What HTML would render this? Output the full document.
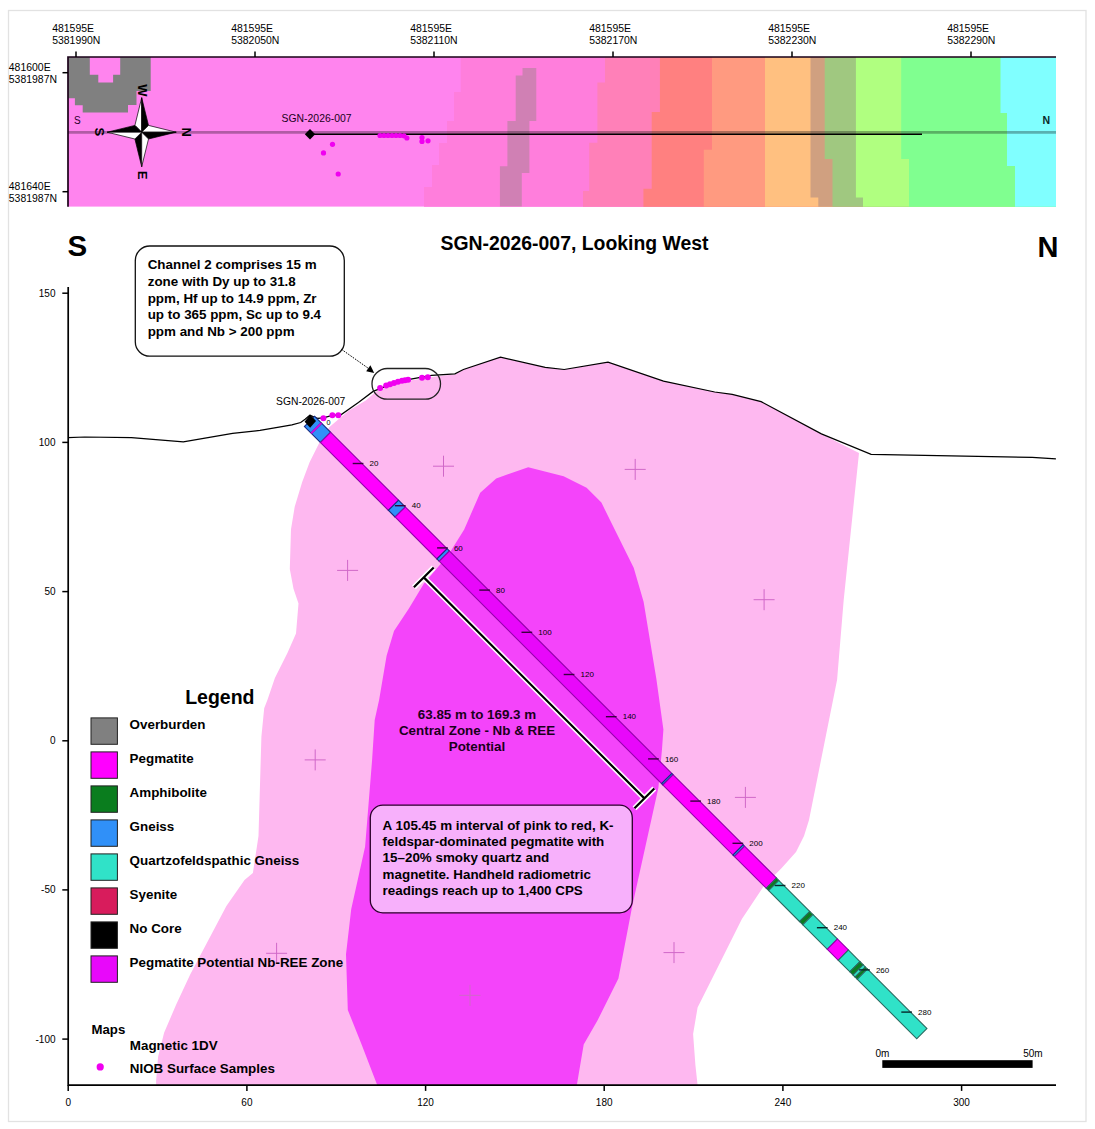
<!DOCTYPE html><html><head><meta charset="utf-8"><style>
html,body{margin:0;padding:0;background:#fff;}
svg{display:block;font-family:"Liberation Sans",sans-serif;}
</style></head><body>
<svg width="1095" height="1129" viewBox="0 0 1095 1129">
<rect x="0" y="0" width="1095" height="1129" fill="#fff"/>
<rect x="8.5" y="10.5" width="1077.5" height="1111" fill="none" stroke="#e2e2e2" stroke-width="1.3"/>

<defs><clipPath id="mapclip"><rect x="68" y="57" width="988" height="149.8"/></clipPath></defs>
<g clip-path="url(#mapclip)">
<rect x="68" y="57" width="988" height="149.8" fill="#ff84ee"/>
<polygon fill="#ff7edc" points="1061.0,52.0 460.8,52.0 460.8,57.0 460.8,92.0 454.0,92.0 454.0,121.0 447.0,121.0 447.0,143.0 439.0,143.0 439.0,165.0 432.0,165.0 432.0,187.0 424.0,187.0 424.0,206.8 424.0,211.8 1061.0,211.8"/>
<polygon fill="#ff80b8" points="1061.0,52.0 605.0,52.0 605.0,57.0 605.0,82.4 597.4,82.4 597.4,142.8 589.2,142.8 589.2,190.9 583.0,190.9 583.0,206.8 583.0,211.8 1061.0,211.8"/>
<polygon fill="#ff8080" points="1061.0,52.0 659.9,52.0 659.9,57.0 659.9,112.0 651.7,112.0 651.7,188.8 643.4,188.8 643.4,206.8 643.4,211.8 1061.0,211.8"/>
<polygon fill="#ff9a80" points="1061.0,52.0 712.0,52.0 712.0,57.0 712.0,149.7 703.8,149.7 703.8,206.8 703.8,211.8 1061.0,211.8"/>
<polygon fill="#ffc080" points="1061.0,52.0 765.0,52.0 765.0,57.0 765.0,206.8 765.0,211.8 1061.0,211.8"/>
<polygon fill="#d0a080" points="1061.0,52.0 810.5,52.0 810.5,57.0 810.5,197.4 818.3,197.4 818.3,206.8 818.3,211.8 1061.0,211.8"/>
<polygon fill="#a0c880" points="1061.0,52.0 824.7,52.0 824.7,57.0 824.7,159.1 832.5,159.1 832.5,206.8 832.5,211.8 1061.0,211.8"/>
<polygon fill="#b0ff80" points="1061.0,52.0 855.9,52.0 855.9,57.0 855.9,197.4 863.0,197.4 863.0,206.8 863.0,211.8 1061.0,211.8"/>
<polygon fill="#80ff90" points="1061.0,52.0 901.2,52.0 901.2,57.0 901.2,159.1 909.0,159.1 909.0,206.8 909.0,211.8 1061.0,211.8"/>
<polygon fill="#80ffff" points="1061.0,52.0 1000.5,52.0 1000.5,57.0 1000.5,113.0 1007.0,113.0 1007.0,166.0 1015.0,166.0 1015.0,206.8 1015.0,211.8 1061.0,211.8"/>
<polygon fill="#d080b4" points="522.5,68 536.3,68 536.3,121 529.4,121 529.4,173 521.8,173 521.8,206.5 499.9,206.5 499.9,166.2 507.4,166.2 507.4,121 515.7,121 515.7,75.6 522.5,75.6"/>
<polygon fill="#808080" points="68,57 150.7,57 150.7,91 136.5,91 136.5,105 128,105 128,112.5 82.7,112.5 82.7,105.3 74.9,105.3 74.9,98.2 68,98.2"/>
<polygon fill="#ff84ee" points="89.8,57 120.2,57 120.2,74.8 113.1,74.8 113.1,82.6 98.3,82.6 98.3,74.8 89.8,74.8"/>
</g>
<line x1="68" y1="132.4" x2="1056" y2="132.4" stroke="#000" stroke-width="2.6" opacity="0.3"/>
<line x1="310" y1="134.3" x2="922" y2="134.3" stroke="#000" stroke-width="1.4"/>
<polyline fill="none" stroke="#1a0018" stroke-width="1.7" points="68,206.8 68,57 1056,57"/>
<line x1="76" y1="51.5" x2="76" y2="57" stroke="#000" stroke-width="1.5"/>
<text x="52.2" y="32.3" font-size="10.45" fill="#000">481595E</text>
<text x="52.2" y="44.3" font-size="10.45" fill="#000">5381990N</text>
<line x1="255" y1="51.5" x2="255" y2="57" stroke="#000" stroke-width="1.5"/>
<text x="231.2" y="32.3" font-size="10.45" fill="#000">481595E</text>
<text x="231.2" y="44.3" font-size="10.45" fill="#000">5382050N</text>
<line x1="434" y1="51.5" x2="434" y2="57" stroke="#000" stroke-width="1.5"/>
<text x="410.2" y="32.3" font-size="10.45" fill="#000">481595E</text>
<text x="410.2" y="44.3" font-size="10.45" fill="#000">5382110N</text>
<line x1="613" y1="51.5" x2="613" y2="57" stroke="#000" stroke-width="1.5"/>
<text x="589.2" y="32.3" font-size="10.45" fill="#000">481595E</text>
<text x="589.2" y="44.3" font-size="10.45" fill="#000">5382170N</text>
<line x1="792" y1="51.5" x2="792" y2="57" stroke="#000" stroke-width="1.5"/>
<text x="768.2" y="32.3" font-size="10.45" fill="#000">481595E</text>
<text x="768.2" y="44.3" font-size="10.45" fill="#000">5382230N</text>
<line x1="971" y1="51.5" x2="971" y2="57" stroke="#000" stroke-width="1.5"/>
<text x="947.2" y="32.3" font-size="10.45" fill="#000">481595E</text>
<text x="947.2" y="44.3" font-size="10.45" fill="#000">5382290N</text>
<line x1="62.5" y1="72.7" x2="68" y2="72.7" stroke="#000" stroke-width="1.5"/>
<text x="8.8" y="71.0" font-size="10.45" fill="#000">481600E</text>
<text x="8.8" y="83.0" font-size="10.45" fill="#000">5381987N</text>
<line x1="62.5" y1="191.7" x2="68" y2="191.7" stroke="#000" stroke-width="1.5"/>
<text x="8.8" y="190.0" font-size="10.45" fill="#000">481640E</text>
<text x="8.8" y="202.0" font-size="10.45" fill="#000">5381987N</text>
<text x="74" y="123.5" font-size="10" fill="#2a002a">S</text>
<text x="1042.6" y="124.3" font-size="10.5" font-weight="bold" fill="#0a2a2a">N</text>
<g stroke="#000" stroke-width="0.7" stroke-linejoin="miter">
<polygon fill="#fff" points="141.7,132.2 141.7,97.7 134.9,125.4"/>
<polygon fill="#000" points="141.7,132.2 141.7,97.7 148.5,125.4"/>
<polygon fill="#fff" points="141.7,132.2 176.2,132.2 148.5,125.4"/>
<polygon fill="#000" points="141.7,132.2 176.2,132.2 148.5,139.0"/>
<polygon fill="#000" points="141.7,132.2 141.7,166.7 134.9,139.0"/>
<polygon fill="#fff" points="141.7,132.2 141.7,166.7 148.5,139.0"/>
<polygon fill="#000" points="141.7,132.2 107.2,132.2 134.9,125.4"/>
<polygon fill="#fff" points="141.7,132.2 107.2,132.2 134.9,139.0"/>
</g>
<text transform="translate(142.5,90.3) rotate(90)" x="0" y="0" text-anchor="middle" dominant-baseline="central" font-size="13" font-weight="bold" fill="#000">W</text>
<text transform="translate(99.3,131.8) rotate(90)" x="0" y="0" text-anchor="middle" dominant-baseline="central" font-size="13" font-weight="bold" fill="#000">S</text>
<text transform="translate(186,132.2) rotate(90)" x="0" y="0" text-anchor="middle" dominant-baseline="central" font-size="13" font-weight="bold" fill="#000">N</text>
<text transform="translate(142.9,175.2) rotate(90)" x="0" y="0" text-anchor="middle" dominant-baseline="central" font-size="13" font-weight="bold" fill="#000">E</text>
<polygon fill="#000" points="310,129 315.2,134.2 310,139.4 304.8,134.2"/>
<text x="281.6" y="122.2" font-size="10.4" fill="#1a001a">SGN-2026-007</text>
<circle cx="332.5" cy="144.3" r="2.6" fill="#f000f0"/>
<circle cx="323.5" cy="152.9" r="2.6" fill="#f000f0"/>
<circle cx="338.2" cy="174" r="2.6" fill="#f000f0"/>
<circle cx="380" cy="135.5" r="2.6" fill="#f000f0"/>
<circle cx="384" cy="135.5" r="2.6" fill="#f000f0"/>
<circle cx="388" cy="135.5" r="2.6" fill="#f000f0"/>
<circle cx="392" cy="135.5" r="2.6" fill="#f000f0"/>
<circle cx="396" cy="135.5" r="2.6" fill="#f000f0"/>
<circle cx="400" cy="135.5" r="2.6" fill="#f000f0"/>
<circle cx="404" cy="135.8" r="2.6" fill="#f000f0"/>
<circle cx="406.9" cy="138" r="2.6" fill="#f000f0"/>
<circle cx="422" cy="137.6" r="2.6" fill="#f000f0"/>
<circle cx="422" cy="141.4" r="2.6" fill="#f000f0"/>
<circle cx="428" cy="140.8" r="2.6" fill="#f000f0"/>
<polygon fill="#feb8f0" points="319.6,442.3 329.2,427.2 348.2,411.1 365.8,400.4 376.0,391.5 395.8,383.8 410.0,380.5 438.8,376.1 454.9,374.5 463.4,369.5 500.5,357.2 545.2,367.4 564.2,369.5 608.0,362.1 663.5,381.1 714.7,392.0 732.2,394.3 761.1,401.6 821.4,433.9 859.0,452.9 843.7,600.0 837.1,679.7 809.0,820.0 804.0,836.0 796.0,852.0 781.7,868.0 764.0,885.7 741.9,918.9 710.9,980.9 697.6,1007.4 693.1,1034.0 695.4,1065.0 697.6,1085.2 156.1,1085.2 156.1,1080.9 158.1,1056.8 164.1,1032.7 176.2,1004.6 190.2,974.4 208.3,940.3 226.4,906.1 244.5,880.0 252.9,873.0 258.5,835.9 261.4,736.7 264.2,708.3 267.4,700.0 274.9,678.1 287.3,653.3 296.0,633.4 298.5,603.6 293.5,588.7 289.8,568.9 291.0,529.2 294.7,506.8 302.2,482.0 309.6,462.2"/>
<polygon fill="#f444fa" points="528.2,467.2 563.6,476.3 586.6,487.8 601.4,502.6 610.0,520.0 633.7,567.8 643.6,601.8 656.3,678.4 663.4,729.4 662.0,749.2 658.4,787.8 632.3,905.8 618.4,978.6 597.6,1020.3 583.7,1044.6 576.8,1085.2 377.3,1085.2 361.6,1044.6 347.8,1009.9 346.0,954.3 351.2,909.2 365.1,846.8 372.1,760.0 374.7,720.0 379.1,700.0 386.6,655.7 394.0,630.9 408.9,608.6 423.8,583.8 448.3,555.1 464.2,529.5 480.2,492.7 496.2,478.4"/>
<path d="M433.0,466.2H454.0M443.5,455.7V476.7" stroke="#d068c8" stroke-width="1" fill="none"/>
<path d="M624.7,469.4H645.7M635.2,458.9V479.9" stroke="#d068c8" stroke-width="1" fill="none"/>
<path d="M337.1,570.4H358.1M347.6,559.9V580.9" stroke="#d068c8" stroke-width="1" fill="none"/>
<path d="M753.6,599.7H774.6M764.1,589.2V610.2" stroke="#d068c8" stroke-width="1" fill="none"/>
<path d="M304.7,759.9H325.7M315.2,749.4V770.4" stroke="#d068c8" stroke-width="1" fill="none"/>
<path d="M734.9,797.4H755.9M745.4,786.9V807.9" stroke="#d068c8" stroke-width="1" fill="none"/>
<path d="M266.1,953.3H287.1M276.6,942.8V963.8" stroke="#d068c8" stroke-width="1" fill="none"/>
<path d="M663.5,952.6H684.5M674,942.1V963.1" stroke="#d068c8" stroke-width="1" fill="none"/>
<path d="M459.5,995.3H480.5M470,984.8V1005.8" stroke="#d068c8" stroke-width="1" fill="none"/>
<polyline fill="none" stroke="#000" stroke-width="1.7" points="68.2,287 68.2,1085.2 1056,1085.2"/>
<line x1="62.3" y1="293.2" x2="68.2" y2="293.2" stroke="#000" stroke-width="1.5"/>
<text x="55.5" y="296.6" font-size="10" text-anchor="end" fill="#000">150</text>
<line x1="62.3" y1="442.4" x2="68.2" y2="442.4" stroke="#000" stroke-width="1.5"/>
<text x="55.5" y="445.8" font-size="10" text-anchor="end" fill="#000">100</text>
<line x1="62.3" y1="591.6" x2="68.2" y2="591.6" stroke="#000" stroke-width="1.5"/>
<text x="55.5" y="595.0" font-size="10" text-anchor="end" fill="#000">50</text>
<line x1="62.3" y1="740.8" x2="68.2" y2="740.8" stroke="#000" stroke-width="1.5"/>
<text x="55.5" y="744.1" font-size="10" text-anchor="end" fill="#000">0</text>
<line x1="62.3" y1="889.9" x2="68.2" y2="889.9" stroke="#000" stroke-width="1.5"/>
<text x="55.5" y="893.3" font-size="10" text-anchor="end" fill="#000">-50</text>
<line x1="62.3" y1="1039.1" x2="68.2" y2="1039.1" stroke="#000" stroke-width="1.5"/>
<text x="55.5" y="1042.5" font-size="10" text-anchor="end" fill="#000">-100</text>
<line x1="68.2" y1="1085.2" x2="68.2" y2="1090.9" stroke="#000" stroke-width="1.5"/>
<text x="68.2" y="1106" font-size="10" text-anchor="middle" fill="#000">0</text>
<line x1="246.9" y1="1085.2" x2="246.9" y2="1090.9" stroke="#000" stroke-width="1.5"/>
<text x="246.9" y="1106" font-size="10" text-anchor="middle" fill="#000">60</text>
<line x1="425.6" y1="1085.2" x2="425.6" y2="1090.9" stroke="#000" stroke-width="1.5"/>
<text x="425.6" y="1106" font-size="10" text-anchor="middle" fill="#000">120</text>
<line x1="604.2" y1="1085.2" x2="604.2" y2="1090.9" stroke="#000" stroke-width="1.5"/>
<text x="604.2" y="1106" font-size="10" text-anchor="middle" fill="#000">180</text>
<line x1="782.9" y1="1085.2" x2="782.9" y2="1090.9" stroke="#000" stroke-width="1.5"/>
<text x="782.9" y="1106" font-size="10" text-anchor="middle" fill="#000">240</text>
<line x1="961.6" y1="1085.2" x2="961.6" y2="1090.9" stroke="#000" stroke-width="1.5"/>
<text x="961.6" y="1106" font-size="10" text-anchor="middle" fill="#000">300</text>
<polyline fill="none" stroke="#000" stroke-width="1.2" points="68.0,437.7 84.7,437.0 131.5,437.7 183.3,441.9 232.6,433.3 260.0,430.4 281.9,426.6 291.9,424.9 300.7,422.5 305.1,419.2 309.8,415.2 317.5,418.4 323.3,417.9 332.3,415.3 340.9,414.8 358.4,402.4 373.1,391.4 387.7,385.6 408.1,379.7 431.5,375.3 454.9,373.9 463.4,369.5 500.5,357.2 545.2,367.4 564.2,369.5 608.0,362.1 663.5,381.1 714.7,392.0 732.2,394.3 761.1,401.6 821.4,433.9 871.1,454.4 1032.3,457.4 1055.9,458.9"/>
<g transform="translate(309.5,421.3) rotate(45)">
<rect x="0.00" y="-7.2" width="22.68" height="14.4" fill="#3090f8" stroke="#1a2a80" stroke-width="1.1"/>
<rect x="22.68" y="-7.2" width="96.08" height="14.4" fill="#ff00ff" stroke="#9400ac" stroke-width="1.1"/>
<rect x="118.76" y="-7.2" width="9.55" height="14.4" fill="#3090f8" stroke="#1a2a80" stroke-width="1.1"/>
<rect x="128.31" y="-7.2" width="59.08" height="14.4" fill="#ff00ff" stroke="#9400ac" stroke-width="1.1"/>
<rect x="187.39" y="-7.2" width="3.28" height="14.4" fill="#3090f8" stroke="#1a2a80" stroke-width="1.1"/>
<rect x="190.68" y="-7.2" width="314.51" height="14.4" fill="#e808fa" stroke="#9400ac" stroke-width="1.1"/>
<rect x="505.19" y="-7.2" width="1.79" height="14.4" fill="#3090f8" stroke="#1a2a80" stroke-width="1.1"/>
<rect x="506.98" y="-7.2" width="99.07" height="14.4" fill="#ff00ff" stroke="#9400ac" stroke-width="1.1"/>
<rect x="606.05" y="-7.2" width="2.09" height="14.4" fill="#3090f8" stroke="#1a2a80" stroke-width="1.1"/>
<rect x="608.14" y="-7.2" width="45.06" height="14.4" fill="#ff00ff" stroke="#9400ac" stroke-width="1.1"/>
<rect x="653.20" y="-7.2" width="3.28" height="14.4" fill="#0a7d1e" stroke="#2a6a60" stroke-width="1.1"/>
<rect x="656.48" y="-7.2" width="43.86" height="14.4" fill="#30e2c8" stroke="#2a6a60" stroke-width="1.1"/>
<rect x="700.34" y="-7.2" width="4.48" height="14.4" fill="#0a7d1e" stroke="#2a6a60" stroke-width="1.1"/>
<rect x="704.82" y="-7.2" width="34.61" height="14.4" fill="#30e2c8" stroke="#2a6a60" stroke-width="1.1"/>
<rect x="739.43" y="-7.2" width="15.52" height="14.4" fill="#ff00ff" stroke="#9400ac" stroke-width="1.1"/>
<rect x="754.95" y="-7.2" width="16.41" height="14.4" fill="#30e2c8" stroke="#2a6a60" stroke-width="1.1"/>
<rect x="771.36" y="-7.2" width="4.48" height="14.4" fill="#0a7d1e" stroke="#2a6a60" stroke-width="1.1"/>
<rect x="775.84" y="-7.2" width="2.98" height="14.4" fill="#30e2c8" stroke="#2a6a60" stroke-width="1.1"/>
<rect x="778.82" y="-7.2" width="2.98" height="14.4" fill="#0a7d1e" stroke="#2a6a60" stroke-width="1.1"/>
<rect x="781.81" y="-7.2" width="84.15" height="14.4" fill="#30e2c8" stroke="#2a6a60" stroke-width="1.1"/>
<rect x="8.95" y="-7.2" width="1.49" height="14.4" fill="#ff00ff" stroke="#9000a8" stroke-width="0.7"/>
</g>
<polygon fill="#000" points="310.2,414.6 316,420.9 310.1,427.8 304.6,421.7"/>
<line x1="352.7" y1="463.5" x2="363.4" y2="463.5" stroke="#3a0040" stroke-width="1.4"/>
<text x="369.5" y="466.1" font-size="8" fill="#000">20</text>
<line x1="394.9" y1="505.7" x2="405.6" y2="505.7" stroke="#3a0040" stroke-width="1.4"/>
<text x="411.7" y="508.3" font-size="8" fill="#000">40</text>
<line x1="437.1" y1="547.9" x2="447.8" y2="547.9" stroke="#3a0040" stroke-width="1.4"/>
<text x="453.9" y="550.5" font-size="8" fill="#000">60</text>
<line x1="479.3" y1="590.1" x2="490.0" y2="590.1" stroke="#3a0040" stroke-width="1.4"/>
<text x="496.1" y="592.7" font-size="8" fill="#000">80</text>
<line x1="521.5" y1="632.3" x2="532.2" y2="632.3" stroke="#3a0040" stroke-width="1.4"/>
<text x="538.3" y="634.9" font-size="8" fill="#000">100</text>
<line x1="563.7" y1="674.5" x2="574.4" y2="674.5" stroke="#3a0040" stroke-width="1.4"/>
<text x="580.5" y="677.1" font-size="8" fill="#000">120</text>
<line x1="605.9" y1="716.7" x2="616.6" y2="716.7" stroke="#3a0040" stroke-width="1.4"/>
<text x="622.7" y="719.3" font-size="8" fill="#000">140</text>
<line x1="648.1" y1="758.9" x2="658.8" y2="758.9" stroke="#3a0040" stroke-width="1.4"/>
<text x="664.9" y="761.5" font-size="8" fill="#000">160</text>
<line x1="690.3" y1="801.1" x2="701.0" y2="801.1" stroke="#3a0040" stroke-width="1.4"/>
<text x="707.1" y="803.7" font-size="8" fill="#000">180</text>
<line x1="732.5" y1="843.3" x2="743.2" y2="843.3" stroke="#3a0040" stroke-width="1.4"/>
<text x="749.3" y="845.9" font-size="8" fill="#000">200</text>
<line x1="774.7" y1="885.5" x2="785.4" y2="885.5" stroke="#062a2a" stroke-width="1.4"/>
<text x="791.5" y="888.1" font-size="8" fill="#000">220</text>
<line x1="816.9" y1="927.7" x2="827.6" y2="927.7" stroke="#062a2a" stroke-width="1.4"/>
<text x="833.7" y="930.3" font-size="8" fill="#000">240</text>
<line x1="859.1" y1="969.9" x2="869.8" y2="969.9" stroke="#062a2a" stroke-width="1.4"/>
<text x="875.9" y="972.5" font-size="8" fill="#000">260</text>
<line x1="901.3" y1="1012.1" x2="912.0" y2="1012.1" stroke="#062a2a" stroke-width="1.4"/>
<text x="918.1" y="1014.7" font-size="8" fill="#000">280</text>
<text x="326.5" y="424.5" font-size="7.2" fill="#000">0</text>
<text x="276.1" y="405.3" font-size="10.3" fill="#000">SGN-2026-007</text>
<circle cx="323.4" cy="418.2" r="3" fill="#f000f0"/>
<circle cx="332.4" cy="415.2" r="3" fill="#f000f0"/>
<circle cx="338.3" cy="415.2" r="3" fill="#f000f0"/>
<circle cx="380.1" cy="388.1" r="3" fill="#f000f0"/>
<circle cx="386.2" cy="385.6" r="3" fill="#f000f0"/>
<circle cx="390" cy="384.3" r="3" fill="#f000f0"/>
<circle cx="394" cy="383" r="3" fill="#f000f0"/>
<circle cx="398" cy="381.8" r="3" fill="#f000f0"/>
<circle cx="402" cy="380.8" r="3" fill="#f000f0"/>
<circle cx="405" cy="380.2" r="3" fill="#f000f0"/>
<circle cx="408.1" cy="379.7" r="3" fill="#f000f0"/>
<circle cx="422" cy="377.8" r="3" fill="#f000f0"/>
<circle cx="427.8" cy="377.2" r="3" fill="#f000f0"/>
<rect x="372" y="368.5" width="68.5" height="30.7" rx="15.3" fill="none" stroke="#222" stroke-width="1.3"/>
<path d="M413.9,587.3L433.7,567.5M423.8,577.4L644.4,798.4M634.5,808.3L654.3,788.5" stroke="#fff" stroke-width="5.4" fill="none"/>
<path d="M413.9,587.3L433.7,567.5M423.8,577.4L644.4,798.4M634.5,808.3L654.3,788.5" stroke="#000" stroke-width="2.2" fill="none"/>
<text x="477" y="718.5" font-size="13.4" font-weight="bold" text-anchor="middle" fill="#1a001a">63.85 m to 169.3 m</text>
<text x="477" y="734.7" font-size="13.4" font-weight="bold" text-anchor="middle" fill="#1a001a">Central Zone - Nb &amp; REE</text>
<text x="477" y="750.9" font-size="13.4" font-weight="bold" text-anchor="middle" fill="#1a001a">Potential</text>
<rect x="135.3" y="246" width="209" height="110.2" rx="14.5" fill="#fff" stroke="#111" stroke-width="1.3"/>
<text x="147.7" y="269.4" font-size="13.4" font-weight="bold" fill="#000">Channel 2 comprises 15 m</text>
<text x="147.7" y="285.9" font-size="13.4" font-weight="bold" fill="#000">zone with Dy up to 31.8</text>
<text x="147.7" y="302.5" font-size="13.4" font-weight="bold" fill="#000">ppm, Hf up to 14.9 ppm, Zr</text>
<text x="147.7" y="319.0" font-size="13.4" font-weight="bold" fill="#000">up to 365 ppm, Sc up to 9.4</text>
<text x="147.7" y="335.6" font-size="13.4" font-weight="bold" fill="#000">ppm and Nb &gt; 200 ppm</text>
<line x1="341.3" y1="349.2" x2="370" y2="369.5" stroke="#000" stroke-width="1" stroke-dasharray="1.6,1.2"/>
<polygon fill="#000" points="374.2,373 366.2,371.3 370.4,365.2"/>
<rect x="370.3" y="805.2" width="262" height="107.6" rx="12.5" fill="#f7b0fb" stroke="#2a002a" stroke-width="1.3"/>
<text x="382.6" y="829.6" font-size="13.4" font-weight="bold" fill="#000">A 105.45 m interval of pink to red, K-</text>
<text x="382.6" y="845.9" font-size="13.4" font-weight="bold" fill="#000">feldspar-dominated pegmatite with</text>
<text x="382.6" y="862.2" font-size="13.4" font-weight="bold" fill="#000">15–20% smoky quartz and</text>
<text x="382.6" y="878.6" font-size="13.4" font-weight="bold" fill="#000">magnetite. Handheld radiometric</text>
<text x="382.6" y="894.9" font-size="13.4" font-weight="bold" fill="#000">readings reach up to 1,400 CPS</text>
<text x="67.6" y="256.4" font-size="29.5" font-weight="bold" fill="#000">S</text>
<text x="1037.5" y="256.8" font-size="29" font-weight="bold" fill="#000">N</text>
<text x="440.5" y="249.8" font-size="19.4" font-weight="bold" fill="#000">SGN-2026-007, Looking West</text>
<text x="185.2" y="704.2" font-size="19.5" font-weight="bold" fill="#000">Legend</text>
<rect x="91" y="717.9" width="26.4" height="26.4" fill="#808080" stroke="#222" stroke-width="1"/>
<text x="129.6" y="728.7" font-size="13.4" font-weight="bold" fill="#000">Overburden</text>
<rect x="91" y="751.9" width="26.4" height="26.4" fill="#ff00ff" stroke="#222" stroke-width="1"/>
<text x="129.6" y="762.7" font-size="13.4" font-weight="bold" fill="#000">Pegmatite</text>
<rect x="91" y="785.9" width="26.4" height="26.4" fill="#0a7d1e" stroke="#222" stroke-width="1"/>
<text x="129.6" y="796.7" font-size="13.4" font-weight="bold" fill="#000">Amphibolite</text>
<rect x="91" y="819.9" width="26.4" height="26.4" fill="#3090f8" stroke="#222" stroke-width="1"/>
<text x="129.6" y="830.7" font-size="13.4" font-weight="bold" fill="#000">Gneiss</text>
<rect x="91" y="853.9" width="26.4" height="26.4" fill="#30e2c8" stroke="#222" stroke-width="1"/>
<text x="129.6" y="864.7" font-size="13.4" font-weight="bold" fill="#000">Quartzofeldspathic Gneiss</text>
<rect x="91" y="887.9" width="26.4" height="26.4" fill="#d81c5c" stroke="#222" stroke-width="1"/>
<text x="129.6" y="898.7" font-size="13.4" font-weight="bold" fill="#000">Syenite</text>
<rect x="91" y="921.9" width="26.4" height="26.4" fill="#000" stroke="#222" stroke-width="1"/>
<text x="129.6" y="932.7" font-size="13.4" font-weight="bold" fill="#000">No Core</text>
<rect x="91" y="955.9" width="26.4" height="26.4" fill="#e808fa" stroke="#222" stroke-width="1"/>
<text x="129.6" y="966.7" font-size="13.4" font-weight="bold" fill="#000">Pegmatite Potential Nb-REE Zone</text>
<text x="91.5" y="1034.3" font-size="13.2" font-weight="bold" fill="#000">Maps</text>
<text x="129.8" y="1050.3" font-size="13.4" font-weight="bold" fill="#000">Magnetic 1DV</text>
<circle cx="100.2" cy="1066.9" r="3.6" fill="#f000f0"/>
<text x="129.8" y="1073" font-size="13.4" font-weight="bold" fill="#000">NIOB Surface Samples</text>
<rect x="882.3" y="1060.2" width="150.3" height="7.7" fill="#000"/>
<text x="875.5" y="1056.6" font-size="10" fill="#000">0m</text>
<text x="1042.6" y="1056.6" font-size="10" text-anchor="end" fill="#000">50m</text>
</svg></body></html>
